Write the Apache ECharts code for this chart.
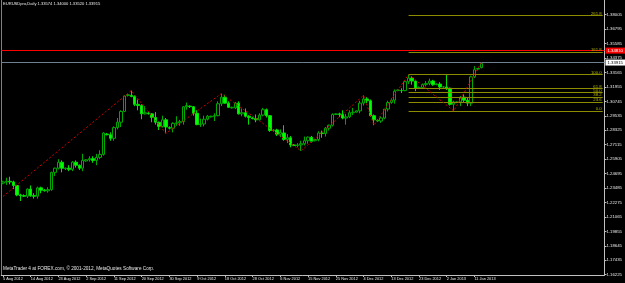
<!DOCTYPE html>
<html><head><meta charset="utf-8">
<script src="https://cdn.jsdelivr.net/npm/echarts@6/dist/echarts.min.js"></script>
<style>html,body{margin:0;padding:0;background:#000}#c{width:625px;height:283px}</style>
</head><body><div id="c"></div>
<script>
const categories = ("5 Aug 2012,6 Aug 2012,7 Aug 2012,8 Aug 2012,9 Aug 2012,10 Aug 2012," +
"12 Aug 2012,13 Aug 2012,14 Aug 2012,15 Aug 2012,16 Aug 2012,17 Aug 2012," +
"19 Aug 2012,20 Aug 2012,21 Aug 2012,22 Aug 2012,23 Aug 2012,24 Aug 2012," +
"26 Aug 2012,27 Aug 2012,28 Aug 2012,29 Aug 2012,30 Aug 2012,31 Aug 2012," +
"2 Sep 2012,3 Sep 2012,4 Sep 2012,5 Sep 2012,6 Sep 2012,7 Sep 2012," +
"9 Sep 2012,10 Sep 2012,11 Sep 2012,12 Sep 2012,13 Sep 2012,14 Sep 2012," +
"16 Sep 2012,17 Sep 2012,18 Sep 2012,19 Sep 2012,20 Sep 2012,21 Sep 2012," +
"23 Sep 2012,24 Sep 2012,25 Sep 2012,26 Sep 2012,27 Sep 2012,28 Sep 2012," +
"30 Sep 2012,1 Oct 2012,2 Oct 2012,3 Oct 2012,4 Oct 2012,5 Oct 2012," +
"7 Oct 2012,8 Oct 2012,9 Oct 2012,10 Oct 2012,11 Oct 2012,12 Oct 2012," +
"14 Oct 2012,15 Oct 2012,16 Oct 2012,17 Oct 2012,18 Oct 2012,19 Oct 2012," +
"21 Oct 2012,22 Oct 2012,23 Oct 2012,24 Oct 2012,25 Oct 2012,26 Oct 2012," +
"28 Oct 2012,29 Oct 2012,30 Oct 2012,31 Oct 2012,1 Nov 2012,2 Nov 2012," +
"4 Nov 2012,5 Nov 2012,6 Nov 2012,7 Nov 2012,8 Nov 2012,9 Nov 2012," +
"11 Nov 2012,12 Nov 2012,13 Nov 2012,14 Nov 2012,15 Nov 2012,16 Nov 2012," +
"18 Nov 2012,19 Nov 2012,20 Nov 2012,21 Nov 2012,22 Nov 2012,23 Nov 2012," +
"25 Nov 2012,26 Nov 2012,27 Nov 2012,28 Nov 2012,29 Nov 2012,30 Nov 2012," +
"2 Dec 2012,3 Dec 2012,4 Dec 2012,5 Dec 2012,6 Dec 2012,7 Dec 2012," +
"9 Dec 2012,10 Dec 2012,11 Dec 2012,12 Dec 2012,13 Dec 2012,14 Dec 2012," +
"16 Dec 2012,17 Dec 2012,18 Dec 2012,19 Dec 2012,20 Dec 2012,21 Dec 2012," +
"23 Dec 2012,24 Dec 2012,26 Dec 2012,27 Dec 2012,28 Dec 2012," +
"30 Dec 2012,31 Dec 2012,1 Jan 2013,2 Jan 2013,3 Jan 2013,4 Jan 2013," +
"6 Jan 2013,7 Jan 2013,8 Jan 2013,9 Jan 2013,10 Jan 2013,11 Jan 2013," +
"13 Jan 2013,14 Jan 2013").split(',');
const emptySlots = 35; // right shift space

const opens = [1.2390,1.2400,1.2405,1.2400,1.2370,1.2290,1.2285,1.2280,1.2340,1.2285,1.2280,1.2350,
1.2330,1.2325,1.2335,1.2480,1.2515,1.2565,1.2510,1.2515,1.2505,1.2565,1.2540,1.2515,
1.2575,1.2585,1.2595,1.2580,1.2605,1.2630,1.2800,1.2795,1.2765,1.2855,1.2900,1.2990,
1.3125,1.3125,1.3115,1.3050,1.3040,1.2970,1.2975,1.2970,1.2940,1.2900,1.2865,1.2920,
1.2855,1.2850,1.2890,1.2895,1.2905,1.3030,1.3035,1.3030,1.2975,1.2880,1.2885,1.2925,
1.2945,1.2950,1.2955,1.3055,1.3110,1.3060,1.3020,1.3020,1.3060,1.2970,1.2980,1.2950,
1.2935,1.2930,1.2920,1.2960,1.3005,1.2955,1.2830,1.2835,1.2800,1.2810,1.2755,1.2770,
1.2710,1.2705,1.2710,1.2720,1.2745,1.2775,1.2745,1.2755,1.2810,1.2805,1.2850,1.2875,
1.2965,1.2970,1.2965,1.2935,1.2945,1.2980,1.2985,1.2995,1.3060,1.3095,1.3080,1.2955,
1.2915,1.2910,1.2935,1.3010,1.3065,1.3085,1.3165,1.3165,1.3165,1.3240,1.3270,1.3245,
1.3185,1.3190,1.3215,1.3225,1.3245,1.3215,1.3220,1.3195,1.3195,1.3185,1.3050,
1.3065,1.3070,1.3110,1.3085,1.3060,1.3280,1.3345,1.33574];
const highs = [1.2410,1.2435,1.2443,1.2410,1.2375,1.2300,1.2295,1.2345,1.2370,1.2305,1.2360,1.2360,
1.2340,1.2355,1.2485,1.2520,1.2590,1.2580,1.2520,1.2540,1.2575,1.2580,1.2545,1.2635,
1.2590,1.2615,1.2615,1.2635,1.2665,1.2815,1.2810,1.2815,1.2865,1.2935,1.3000,1.3125,
1.3135,1.3165,1.3125,1.3090,1.3050,1.3035,1.2985,1.2975,1.2985,1.2905,1.2955,1.2935,
1.2865,1.2900,1.2950,1.2920,1.3035,1.3065,1.3040,1.3035,1.3000,1.2930,1.2955,1.2960,
1.2955,1.2975,1.3075,1.3140,1.3130,1.3075,1.3030,1.3070,1.3075,1.3015,1.3015,1.2960,
1.2945,1.2965,1.2975,1.3020,1.3015,1.2960,1.2840,1.2845,1.2840,1.2875,1.2800,1.2785,
1.2715,1.2725,1.2745,1.2780,1.2780,1.2785,1.2760,1.2825,1.2830,1.2860,1.2880,1.2975,
1.2975,1.2980,1.3000,1.2970,1.3000,1.3020,1.3000,1.3080,1.3125,1.3110,1.3090,1.2965,
1.2925,1.2950,1.3010,1.3080,1.3100,1.3175,1.3175,1.3185,1.3250,1.3300,1.3285,1.3250,
1.3200,1.3225,1.3245,1.3265,1.3255,1.3225,1.3235,1.3200,1.3295,1.3190,1.3080,
1.3075,1.3120,1.3135,1.3105,1.3290,1.3370,1.3355,1.34000];
const lows = [1.2380,1.2375,1.2380,1.2340,1.2280,1.2240,1.2275,1.2265,1.2275,1.2260,1.2260,1.2305,
1.2320,1.2310,1.2325,1.2450,1.2505,1.2480,1.2500,1.2490,1.2490,1.2520,1.2500,1.2490,
1.2570,1.2570,1.2560,1.2540,1.2590,1.2620,1.2790,1.2745,1.2745,1.2840,1.2860,1.2985,
1.3115,1.3110,1.3035,1.3000,1.2925,1.2965,1.2965,1.2900,1.2880,1.2835,1.2855,1.2807,
1.2840,1.2815,1.2870,1.2870,1.2880,1.3005,1.3020,1.2955,1.2875,1.2860,1.2865,1.2915,
1.2940,1.2910,1.2950,1.3035,1.3055,1.3020,1.3015,1.3010,1.2965,1.2950,1.2940,1.2880,
1.2925,1.2900,1.2915,1.2950,1.2940,1.2820,1.2820,1.2785,1.2775,1.2745,1.2725,1.2690,
1.2700,1.2690,1.2660,1.2705,1.2720,1.2730,1.2740,1.2740,1.2770,1.2780,1.2830,1.2865,
1.2960,1.2945,1.2925,1.2880,1.2935,1.2960,1.2980,1.2975,1.3040,1.3060,1.2945,1.2875,
1.2905,1.2895,1.2925,1.2990,1.3055,1.3055,1.3160,1.3145,1.3160,1.3220,1.3215,1.3160,
1.3180,1.3185,1.3200,1.3210,1.3205,1.3210,1.3170,1.3190,1.3170,1.3040,1.2995,
1.3060,1.3035,1.3070,1.3035,1.3035,1.3270,1.3335,1.33520];
const closes = [1.2400,1.2405,1.2400,1.2370,1.2290,1.2285,1.2280,1.2340,1.2285,1.2280,1.2350,1.2330,
1.2325,1.2335,1.2480,1.2515,1.2565,1.2515,1.2515,1.2505,1.2565,1.2540,1.2515,1.2580,
1.2585,1.2595,1.2580,1.2605,1.2630,1.2810,1.2795,1.2765,1.2855,1.2900,1.2990,1.3120,
1.3130,1.3115,1.3050,1.3040,1.2970,1.2980,1.2970,1.2940,1.2900,1.2865,1.2920,1.2860,
1.2850,1.2890,1.2895,1.2905,1.3030,1.3040,1.3030,1.2975,1.2880,1.2885,1.2925,1.2950,
1.2950,1.2955,1.3055,1.3110,1.3060,1.3025,1.3025,1.3060,1.2970,1.2980,1.2950,1.2940,
1.2930,1.2920,1.2960,1.3005,1.2955,1.2830,1.2835,1.2800,1.2815,1.2755,1.2770,1.2710,
1.2705,1.2710,1.2720,1.2745,1.2775,1.2740,1.2755,1.2810,1.2805,1.2850,1.2875,1.2965,
1.2970,1.2965,1.2935,1.2945,1.2980,1.2985,1.2995,1.3060,1.3095,1.3080,1.2955,1.2920,
1.2910,1.2935,1.3010,1.3065,1.3085,1.3160,1.3170,1.3165,1.3240,1.3270,1.3245,1.3185,
1.3190,1.3215,1.3225,1.3245,1.3215,1.3220,1.3195,1.3195,1.3185,1.3050,1.3070,
1.3070,1.3110,1.3085,1.3060,1.3280,1.3340,1.3350,1.33915];

// ZigZag swing points: [bar index, price]
const zigzag = [[0,1.2278],[37,1.3165],[47,1.2807],[63,1.3140],[86,1.2660],[104,1.3125],[107,1.2875],[117,1.3300],[130,1.2995],[138,1.3400]];

// Fibonacci retracement (from Dec 19 high to Jan 4 low)
const fibStartIndex = 117;
const fibHigh = 1.3300;
const fibLow = 1.2995;
const fibLevels = [0, 23.6, 38.2, 50, 61.8, 100, 161.8, 261.8];

const redLinePrice = 1.3481;
const bidPrice = 1.33915;

const yTicks = [1.16225,1.17435,1.18645,1.19855,1.21065,1.22275,1.23485,1.24695,1.25905,1.27115,
1.28325,1.29535,1.30745,1.31955,1.33165,1.34375,1.35585,1.36795,1.38005];
const yMin = 1.1620, yMax = 1.3924;

const titleText = 'EURUSDpro,Daily 1.33574 1.34000 1.33520 1.33915';
const footerText = 'MetaTrader 4 at FOREX.com, \u00a9 2001-2012, MetaQuotes Software Corp.';

const xCats = categories.concat(new Array(emptySlots).fill(''));
const lastIndex = xCats.length - 1;
const candleData = opens.map((o, i) => [o, closes[i], lows[i], highs[i]]);
const FONT = 'Liberation Sans';
const labelEvery = (idx, val) => val !== '' && idx % 8 === 0;

const fibLines = fibLevels.map(l => {
  const p = fibLow + (fibHigh - fibLow) * l / 100;
  return [
    {coord: [fibStartIndex, p], label: {formatter: l.toFixed(1)}},
    {coord: [lastIndex, p]}
  ];
});

const chart = echarts.init(document.getElementById('c'), null, {renderer: 'canvas'});
chart.setOption({
  backgroundColor: '#000000',
  animation: false,
  title: [
    {text: titleText, left: 3, top: 2, padding: 0,
     textStyle: {color: '#e8e8e8', fontSize: 4.1, fontWeight: 'normal', fontFamily: FONT}},
    {text: footerText, left: 3, top: 266, padding: 0,
     textStyle: {color: '#e8e8e8', fontSize: 4.7, fontWeight: 'normal', fontFamily: FONT}}
  ],
  grid: {left: 0, right: 18, top: 0, bottom: 8},
  xAxis: {
    type: 'category', data: xCats, boundaryGap: true,
    axisLine: {show: true, lineStyle: {color: '#c0c0c0', width: 1}},
    axisTick: {show: true, alignWithLabel: true, length: 2, interval: labelEvery, lineStyle: {color: '#c0c0c0'}},
    axisLabel: {interval: labelEvery, align: 'left', fontSize: 3.9, color: '#e8e8e8', margin: 2, fontFamily: FONT},
    splitLine: {show: false}
  },
  yAxis: [
    {type: 'value', position: 'right', min: yMin, max: yMax,
     axisLine: {show: true, lineStyle: {color: '#c0c0c0'}},
     axisTick: {show: true, length: 2, customValues: yTicks, lineStyle: {color: '#c0c0c0'}},
     axisLabel: {customValues: yTicks, formatter: v => v.toFixed(5), fontSize: 4.3, color: '#e8e8e8', margin: 2, fontFamily: FONT},
     splitLine: {show: false}},
    {type: 'value', position: 'left', min: yMin, max: yMax,
     axisLine: {show: true, lineStyle: {color: '#808080'}},
     axisTick: {show: false}, axisLabel: {show: false}, splitLine: {show: false}}
  ],
  series: [
    {
      type: 'candlestick', data: candleData, barWidth: 3, z: 2,
      itemStyle: {color: '#000000', color0: '#00ff00', borderColor: '#00a800', borderColor0: '#00e000', borderWidth: 1},
      markLine: {
        silent: true, symbol: ['none', 'none'], animation: false,
        data: [
          {yAxis: bidPrice, lineStyle: {color: '#708090', width: 1, type: 'solid'},
           label: {show: true, position: 'end', distance: 1, formatter: bidPrice.toFixed(5), color: '#000', backgroundColor: '#ffffff',
                   fontSize: 4.3, fontFamily: FONT, padding: [1, 2, 1, 2]}},
          {yAxis: redLinePrice, lineStyle: {color: '#ff0000', width: 1, type: 'solid'},
           label: {show: true, position: 'end', distance: 1, formatter: redLinePrice.toFixed(5), color: '#ffffff', backgroundColor: '#ff0000',
                   fontSize: 4.3, fontFamily: FONT, padding: [1, 2, 1, 2]}}
        ]
      }
    },
    {
      type: 'line', data: zigzag, symbol: 'none', z: 5, zlevel: 1,
      lineStyle: {color: '#c80000', width: 1, type: [2, 2]},
      markLine: {
        silent: true, symbol: ['none', 'none'], animation: false,
        lineStyle: {color: '#8c8c00', width: 1, type: 'solid'},
        label: {show: true, position: 'insideEndTop', distance: [1, 0], color: '#b4b400', fontSize: 4.3, fontFamily: FONT},
        data: fibLines
      }
    }
  ]
});
</script></body></html>
